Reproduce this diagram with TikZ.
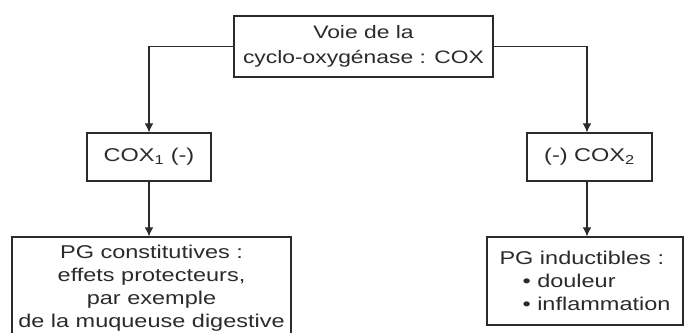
\documentclass[tikz,border=0pt]{standalone}
\usepackage{fontspec}
\setmainfont{Liberation Sans}[FakeStretch=1.27]
\usetikzlibrary{arrows.meta}
\definecolor{ink}{HTML}{2B2B2B}
\begin{document}
\begin{tikzpicture}[x=1pt,y=-1pt,
  box/.style={draw=ink, line width=1.1pt, rectangle, inner sep=0pt, text=ink, align=center},
  link/.style={draw=ink, line width=1.1pt, -{Latex[length=9pt,width=8.5pt]}},
  txt/.style={font=\fontsize{18.5}{23}\selectfont}]
\useasboundingbox (0,0) rectangle (684,332);
\clip (0,0) rectangle (684,332);
\fill[white] (0,0) rectangle (684,332);
\node[box, minimum width=259pt, minimum height=61pt, font=\fontsize{18}{25}\selectfont] (voie) at (363.5,46.5) {Voie de la\\cyclo-oxygénase : COX};
\node[box, minimum width=124pt, minimum height=48pt, txt] (cox1) at (149,157) {COX\textsubscript{1} (-)};
\node[box, minimum width=125pt, minimum height=48pt, txt] (cox2) at (589.5,157) {(-) COX\textsubscript{2}};
\node[box, minimum width=279pt, minimum height=103pt, txt] (pgc) at (151.5,288.5) {PG constitutives :\\effets protecteurs,\\par exemple\\de la muqueuse digestive};
\node[box, minimum width=196pt, minimum height=88pt, txt, align=left] (pgi) at (585,281) {PG inductibles :\\\hspace*{23pt}• douleur\\\hspace*{23pt}• inflammation};
\draw[link] (voie.west) -| (cox1.north);
\draw[link] (voie.east) -| ([xshift=-2.5pt]cox2.north);
\draw[link] (cox1.south) -- (cox1.south |- pgc.north);
\draw[link] ([xshift=-2.5pt]cox2.south) -- ([xshift=-2.5pt]cox2.south |- pgi.north);
\end{tikzpicture}
\end{document}
